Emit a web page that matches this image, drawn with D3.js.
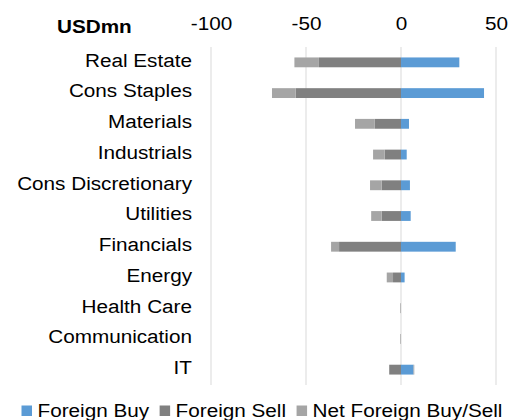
<!DOCTYPE html>
<html>
<head>
<meta charset="utf-8">
<script src="https://cdn.jsdelivr.net/npm/d3@7"></script>
<style>
  body { margin: 0; background: #fff; }
  text { font-family: "Liberation Sans", Arial, sans-serif; fill: #000; }
</style>
</head>
<body>
<div id="chart"></div>
<script>
// Data (USD mn)
const categories = ["Real Estate", "Cons Staples", "Materials", "Industrials", "Cons Discretionary",
  "Utilities", "Financials", "Energy", "Health Care", "Communication", "IT"];
const foreignBuy  = [30.7, 43.7, 4.2, 3.0, 4.7, 5.1, 28.8, 1.9, 0, 0, 6.6];
const foreignSell = [43.2, 55.4, 13.8, 8.6, 10.2, 10.2, 32.6, 4.2, 0.1, 0.1, 6.2];
const netBuySell  = [-12.9, -12.5, -10.4, -6.1, -6.1, -5.5, -4.2, -3.3, -0.3, -0.3, 0.4];
const tickValues = [-100, -50, 0, 50];
const seriesNames = ["Foreign Buy", "Foreign Sell", "Net Foreign Buy/Sell"];
const seriesColors = ["#5b9bd5", "#808080", "#a5a5a5"];

// Layout
const W = 512, H = 420;
const PLOT = { left: 211, right: 496, top: 47, bottom: 385 };
const FONT = 18, STRETCH = 1.15;

const svg = d3.select("#chart").append("svg")
    .attr("width", W)
    .attr("height", H);

const rows = categories.map((c, i) => ({
    category: c,
    buy: foreignBuy[i],
    sell: -foreignSell[i],
    net: netBuySell[i]
}));
const keys = ["buy", "sell", "net"];
const color = d3.scaleOrdinal().domain(keys).range(seriesColors);

const x = d3.scaleLinear()
    .domain([-100, 50])
    .range([PLOT.left, PLOT.right]);

const y = d3.scaleBand()
    .domain(categories)
    .range([PLOT.top, PLOT.bottom])
    .paddingInner(0.68)
    .paddingOuter(0.34);

// widen glyphs a little, the source text is horizontally stretched
function stretch(sel) {
    sel.each(function () {
        const len = this.getComputedTextLength();
        d3.select(this)
            .attr("textLength", len * STRETCH)
            .attr("lengthAdjust", "spacingAndGlyphs");
    });
}

// Gridlines
svg.append("g")
    .selectAll("line")
    .data(tickValues)
    .join("line")
    .attr("x1", d => x(d)).attr("x2", d => x(d))
    .attr("y1", PLOT.top).attr("y2", PLOT.bottom)
    .attr("stroke", "#d9d9d9")
    .attr("stroke-width", 1);

// Bars
const stacked = d3.stack()
    .keys(keys)
    .offset(d3.stackOffsetDiverging)(rows);

svg.append("g")
    .selectAll("g")
    .data(stacked)
    .join("g")
    .attr("fill", d => color(d.key))
    .selectAll("rect")
    .data(d => d)
    .join("rect")
    .attr("x", d => x(Math.min(d[0], d[1])))
    .attr("width", d => Math.abs(x(d[1]) - x(d[0])))
    .attr("y", d => y(d.data.category))
    .attr("height", y.bandwidth());

// Top axis
const xAxis = svg.append("g")
    .attr("transform", "translate(0,33)")
    .call(d3.axisTop(x).tickValues(tickValues).tickFormat(d => String(d)).tickSize(0).tickPadding(3))
    .call(g => g.select(".domain").remove());
xAxis.selectAll("text")
    .attr("font-size", FONT)
    .attr("font-family", null)
    .call(stretch);

// Category axis
const yAxis = svg.append("g")
    .attr("transform", `translate(${PLOT.left},0)`)
    .call(d3.axisLeft(y).tickSize(0).tickPadding(19))
    .call(g => g.select(".domain").remove());
yAxis.selectAll("text")
    .attr("font-size", FONT)
    .attr("font-family", null)
    .attr("dy", "0.24em")
    .call(stretch);

// Unit label
svg.append("text")
    .attr("x", 57)
    .attr("y", 33)
    .attr("font-size", FONT)
    .attr("font-weight", "bold")
    .text("USDmn")
    .call(stretch);

// Legend
const legend = svg.append("g").attr("transform", "translate(21.5,0)");
let lx = 0;
seriesNames.forEach((name, i) => {
    legend.append("rect")
        .attr("x", lx)
        .attr("y", 405.5)
        .attr("width", 10.5)
        .attr("height", 10.5)
        .attr("fill", seriesColors[i]);
    const t = legend.append("text")
        .attr("x", lx + 16)
        .attr("y", 416.7)
        .attr("font-size", FONT)
        .text(name);
    const len = t.node().getComputedTextLength() * STRETCH;
    t.attr("textLength", len).attr("lengthAdjust", "spacingAndGlyphs");
    lx += 16 + len + 10.5;
});
</script>
</body>
</html>
